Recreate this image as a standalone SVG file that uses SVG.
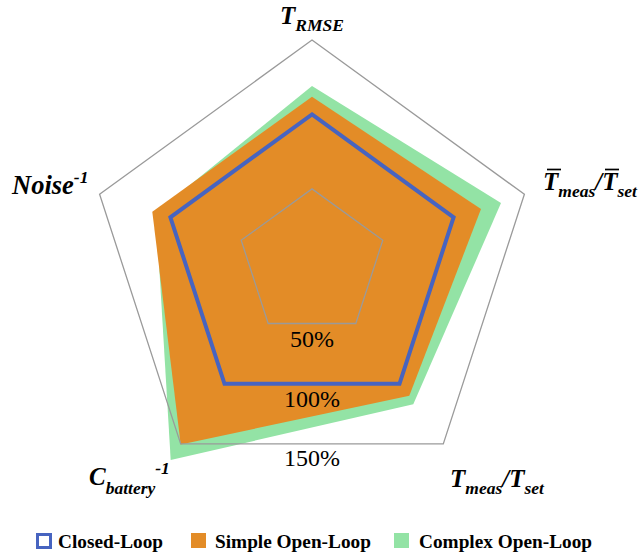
<svg xmlns="http://www.w3.org/2000/svg" width="641" height="554" viewBox="0 0 641 554">
<style>
.lbl{font-family:"Liberation Serif","Times New Roman",serif;font-weight:bold;font-style:italic;font-size:25px;fill:#000}
.sub{font-size:17.5px}
.big{font-size:26.5px}
.pct{font-family:"Liberation Serif","Times New Roman",serif;font-size:24px;fill:#000;text-anchor:middle}
.leg{font-family:"Liberation Serif","Times New Roman",serif;font-weight:bold;font-size:19.3px;fill:#000}
.grid{fill:none;stroke:#9a9a9a;stroke-width:1.3}
.bar{stroke:#000;stroke-width:1.7}
</style>
<rect width="641" height="554" fill="#fff"/>
<g id="series-complex">
<polygon points="312,86 501,203 413.3,404.3 170.7,460 156,212.6" fill="#93E3A5"/>
</g>
<g id="series-simple">
<polygon points="312,96.7 481,209 409.3,395.7 180.7,444.5 152.3,211.7" fill="#E38C27"/>
</g>
<g id="grid">
<polygon class="grid" points="312,40 524.4,194.3 443.3,443.9 180.7,443.9 99.6,194.3"/>
<polygon class="grid" points="312,188.9 382.8,240.3 355.8,323.5 268.2,323.5 241.2,240.3"/>
</g>
<g id="series-closed">
<polygon points="312,114.4 453.6,217.3 399.5,383.8 224.5,383.8 170.4,217.3" fill="none" stroke="#4764C0" stroke-width="4" stroke-linejoin="miter"/>
</g>
<g id="scale">
<text class="pct" x="312" y="347">50%</text>
<text class="pct" x="312" y="407">100%</text>
<text class="pct" x="312" y="466">150%</text>
</g>
<g id="axis-trmse">
<text class="lbl" x="280" y="24">T<tspan class="sub" y="31">RMSE</tspan></text>
</g>
<g id="axis-tmeanratio">
<text class="lbl" x="543" y="190">T<tspan class="sub" y="197">meas</tspan><tspan y="190">/T</tspan><tspan class="sub" y="197">set</tspan></text>
<line class="bar" x1="547" y1="169.5" x2="561" y2="169.5"/>
<line class="bar" x1="605" y1="169.5" x2="619" y2="169.5"/>
</g>
<g id="axis-tratio">
<text class="lbl" x="450" y="487">T<tspan class="sub" y="494">meas</tspan><tspan y="487">/T</tspan><tspan class="sub" y="494">set</tspan></text>
</g>
<g id="axis-battery">
<text class="lbl" x="89" y="485">C<tspan class="sub" y="494">battery</tspan><tspan class="sub" y="474">-1</tspan></text>
</g>
<g id="axis-noise">
<text class="lbl big" x="12" y="194">Noise<tspan class="sub" y="183">-1</tspan></text>
</g>
<g id="legend">
<rect x="37.5" y="534.5" width="13" height="13" fill="#fff" stroke="#4764C0" stroke-width="3"/>
<text class="leg" x="58" y="548">Closed-Loop</text>
<rect x="191" y="533" width="15" height="15" fill="#E38C27"/>
<text class="leg" x="215" y="548">Simple Open-Loop</text>
<rect x="394" y="533" width="15" height="15" fill="#93E3A5"/>
<text class="leg" x="419" y="548">Complex Open-Loop</text>
</g>
</svg>
